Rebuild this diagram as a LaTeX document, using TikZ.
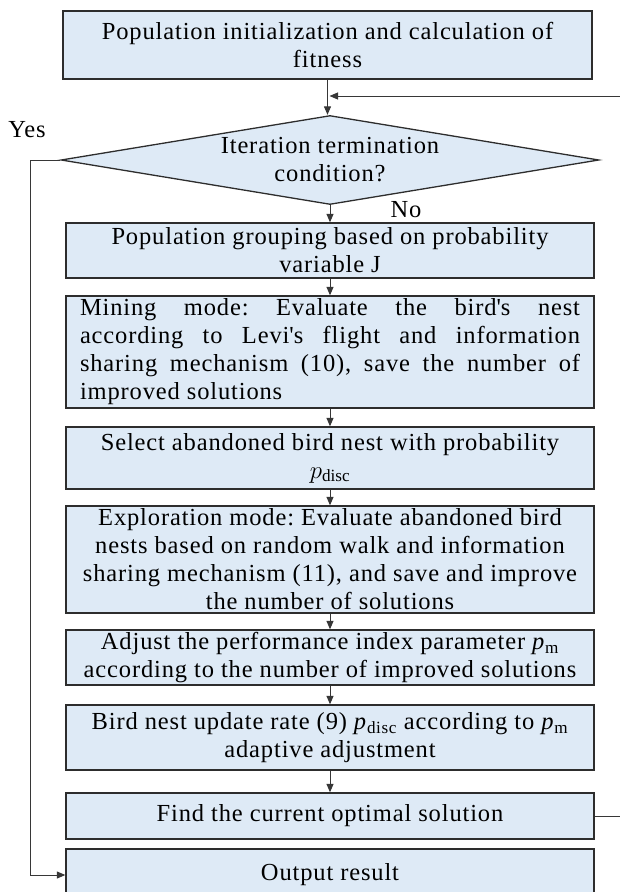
\documentclass[tikz,border=0pt]{standalone}
\usepackage{fontspec}
\setmainfont{Liberation Serif}[LetterSpace=3.5]
\usetikzlibrary{shapes.geometric,arrows.meta}
\definecolor{boxfill}{RGB}{222,234,246}
\definecolor{edge}{RGB}{45,45,45}
\definecolor{wire}{RGB}{55,55,55}
\frenchspacing
\begin{document}
\begin{tikzpicture}[x=1pt,y=-1pt,
  txt/.style={font=\fontsize{24.5}{28}\selectfont, align=center, inner sep=0pt},
  stepbox/.style={txt, draw=edge, line width=1.3pt, fill=boxfill, minimum width=528pt},
  arr/.style={draw=wire, line width=1pt, -{Triangle[length=8.5pt,width=7pt]}},
  wireline/.style={draw=wire, line width=1pt}]
\useasboundingbox (0,0) rectangle (619,892);

% process steps
\node[stepbox, minimum width=529pt, minimum height=68pt] (init) at (327.5,45)
  {Population initialization and calculation of\\fitness};
\node[diamond, draw=edge, line width=1.3pt, fill=boxfill, minimum width=538pt,
  minimum height=89pt, inner sep=0pt] (cond) at (330,160) {};
\node[txt] (condtext) at (cond.center) {Iteration termination\\condition?};
\node[stepbox, minimum height=55pt] (group) at (330,250.5)
  {Population grouping based on probability\\variable J};
\node[stepbox, minimum height=112pt] (mine) at (330,352)
  {\makebox[500pt][s]{Mining mode: Evaluate the bird\textquotesingle s nest}\\
   \makebox[500pt][s]{according to Levi\textquotesingle s flight and information}\\
   \makebox[500pt][s]{sharing mechanism (10), save the number of}\\
   \makebox[500pt][l]{improved solutions}};
\node[stepbox, minimum height=62pt] (select) at (330,458)
  {Select abandoned bird nest with probability\\$p_{\mathrm{disc}}$};
\node[stepbox, minimum height=107pt] (explore) at (330,559.5)
  {Exploration mode: Evaluate abandoned bird\\nests based on random walk and information\\
   sharing mechanism (11), and save and improve\\the number of solutions};
\node[stepbox, minimum height=55pt] (adjust) at (330,657.5)
  {Adjust the performance index parameter \textit{p}\textsubscript{m}\\
   according to the number of improved solutions};
\node[stepbox, minimum height=65pt] (update) at (330,737.5)
  {Bird nest update rate (9) \textit{p}\textsubscript{disc} according to \textit{p}\textsubscript{m}\\
   adaptive adjustment};
\node[stepbox, minimum height=46pt] (best) at (330,816)
  {Find the current optimal solution};
\node[stepbox, minimum height=52pt] (output) at (330,875)
  {Output result};

% branch labels
\node[txt] (yes) at (27,130) {Yes};
\node[txt] (no) at (406,210) {No};

% main flow
\draw[arr] (init.south) -- (init.south |- cond.north);
\draw[arr] (cond.south) -- (group.north);
\draw[arr] (group.south) -- (mine.north);
\draw[arr] (mine.south) -- (select.north);
\draw[arr] (select.south) -- (explore.north);
\draw[arr] (explore.south) -- (adjust.north);
\draw[arr] (adjust.south) -- (update.north);
\draw[arr] (update.south) -- (best.north);

% loop back to the termination test
\coordinate (merge) at (329.5,96);
\draw[arr] (best.east) -- ++(45,0) |- (merge);

% exit branch
\draw[arr] (cond.west) -- ++(-30,0) |- (output.west);
\end{tikzpicture}
\end{document}
